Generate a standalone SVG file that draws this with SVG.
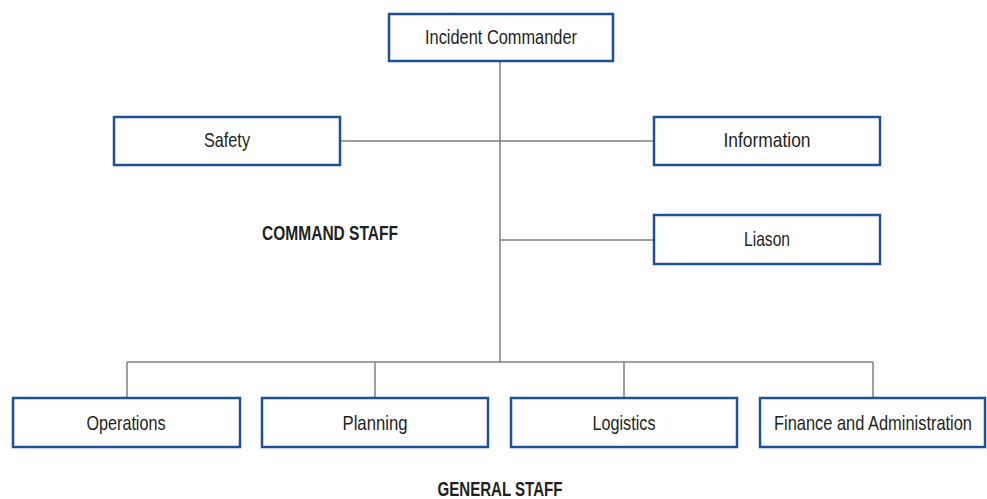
<svg xmlns="http://www.w3.org/2000/svg" width="987" height="499" viewBox="0 0 987 499">
<style>
.box{fill:#fff;stroke:#1d4f9a;stroke-width:2.5}
.lbl{font-family:"Liberation Sans",Arial,sans-serif;font-size:21px;fill:#231f20;text-anchor:middle}
.hdr{font-family:"Liberation Sans",Arial,sans-serif;font-size:21px;font-weight:bold;fill:#231f20;text-anchor:middle}
.conn{stroke:#808080;stroke-width:1.5;fill:none}
</style>
<rect width="987" height="499" fill="#fff"/>
<g id="connectors">
<path class="conn" d="M500 61V362M340 141H654M500 240H654M127 362H873M127 362V398M375 362V398M624 362V398M873 362V398"/>
</g>
<g id="incident-commander"><rect class="box" x="389" y="14" width="224" height="47"/><text class="lbl" x="501" y="44" textLength="152" lengthAdjust="spacingAndGlyphs">Incident Commander</text></g>
<g id="safety"><rect class="box" x="114" y="117" width="226" height="48"/><text class="lbl" x="227" y="147" textLength="46" lengthAdjust="spacingAndGlyphs">Safety</text></g>
<g id="information"><rect class="box" x="654" y="117" width="226" height="48"/><text class="lbl" x="767" y="147" textLength="87" lengthAdjust="spacingAndGlyphs">Information</text></g>
<g id="liason"><rect class="box" x="654" y="215" width="226" height="49"/><text class="lbl" x="767" y="246" textLength="46" lengthAdjust="spacingAndGlyphs">Liason</text></g>
<g id="command-staff"><text class="hdr" x="330" y="240" textLength="136" lengthAdjust="spacingAndGlyphs">COMMAND STAFF</text></g>
<g id="operations"><rect class="box" x="13" y="398" width="227" height="49"/><text class="lbl" x="126" y="430" textLength="79" lengthAdjust="spacingAndGlyphs">Operations</text></g>
<g id="planning"><rect class="box" x="262" y="398" width="226" height="49"/><text class="lbl" x="375" y="430" textLength="65" lengthAdjust="spacingAndGlyphs">Planning</text></g>
<g id="logistics"><rect class="box" x="511" y="398" width="226" height="49"/><text class="lbl" x="624" y="430" textLength="63" lengthAdjust="spacingAndGlyphs">Logistics</text></g>
<g id="finance"><rect class="box" x="760" y="398" width="225" height="49"/><text class="lbl" x="873" y="430" textLength="198" lengthAdjust="spacingAndGlyphs">Finance and Administration</text></g>
<g id="general-staff"><text class="hdr" x="500" y="496" textLength="125" lengthAdjust="spacingAndGlyphs">GENERAL STAFF</text></g>
</svg>
